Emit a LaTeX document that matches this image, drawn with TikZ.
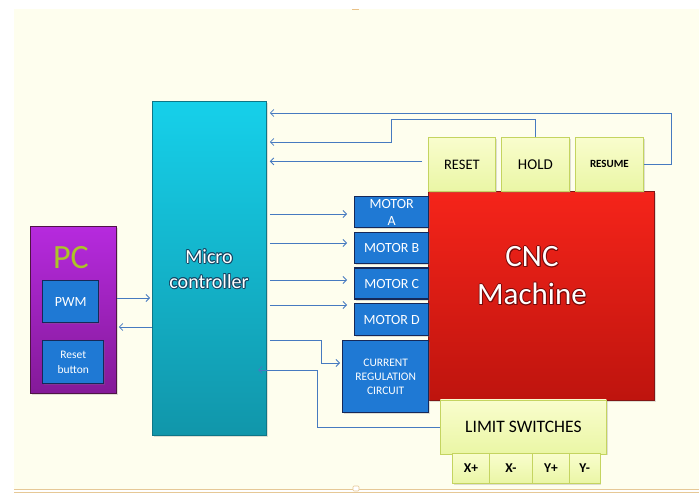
\documentclass[tikz,border=0pt]{standalone}
\usepackage{fontspec}
\setmainfont{Carlito}
\usetikzlibrary{arrows.meta,shadows}
\definecolor{cream}{RGB}{254,254,238}
\definecolor{tanline}{RGB}{230,200,150}
\definecolor{mcTop}{RGB}{22,208,234}
\definecolor{mcBot}{RGB}{17,150,170}
\definecolor{mcEdge}{RGB}{14,118,135}
\definecolor{pcTop}{RGB}{182,42,222}
\definecolor{pcBot}{RGB}{132,26,152}
\definecolor{pcEdge}{RGB}{80,20,70}
\definecolor{pcText}{RGB}{172,196,40}
\definecolor{bBlue}{RGB}{31,121,212}
\definecolor{bEdge}{RGB}{22,40,88}
\definecolor{yTop}{RGB}{249,253,205}
\definecolor{yBot}{RGB}{234,246,165}
\definecolor{yEdge}{RGB}{196,212,96}
\definecolor{rTop}{RGB}{245,36,26}
\definecolor{rBot}{RGB}{190,20,14}
\definecolor{rEdge}{RGB}{130,22,20}
\definecolor{arrc}{RGB}{70,122,192}
\definecolor{mcOut}{RGB}{20,70,100}
\definecolor{cncOut}{RGB}{120,10,10}
\newcommand\glowone[4]{\rlap{\hspace*{#2}\raisebox{#3}{\textcolor{#1}{#4}}}}
\newcommand\glowtxt[2]{\leavevmode
  \glowone{#1}{0.9pt}{0pt}{#2}\glowone{#1}{-0.9pt}{0pt}{#2}%
  \glowone{#1}{0pt}{0.9pt}{#2}\glowone{#1}{0pt}{-0.9pt}{#2}%
  \glowone{#1}{0.65pt}{0.65pt}{#2}\glowone{#1}{-0.65pt}{0.65pt}{#2}%
  \glowone{#1}{0.65pt}{-0.65pt}{#2}\glowone{#1}{-0.65pt}{-0.65pt}{#2}%
  \glowone{#1}{0.8pt}{-1.2pt}{#2}%
  #2}
\begin{document}
\begin{tikzpicture}[x=1pt,y=-1pt,
  box/.style={rectangle, inner sep=0pt, anchor=north west, align=center, line width=0.8pt,
    drop shadow={opacity=0.25, shadow xshift=1.2pt, shadow yshift=-1.5pt}},
  mcbox/.style={box, top color=mcTop, bottom color=mcBot, draw=mcEdge},
  pcbox/.style={box, top color=pcTop, bottom color=pcBot, draw=pcEdge},
  bbox/.style={box, fill=bBlue, draw=bEdge, line width=1.4pt, text=white},
  ybox/.style={box, top color=yTop, bottom color=yBot, draw=yEdge, text=black},
  rbox/.style={box, top color=rTop, bottom color=rBot, draw=rEdge},
  arr/.style={draw=arrc, line width=0.8pt, -{Straight Barb[length=3.5pt,width=7pt]}}
]
\useasboundingbox (0,0) rectangle (699,494);
\fill[white] (0,0) rectangle (699,494);
\fill[cream] (14,9) rectangle (699,489);
\draw[tanline, line width=1.2pt] (14,489.3) -- (699,489.3);
\draw[tanline, line width=1pt] (14,492.6) -- (699,492.6);
\fill[white, draw=tanline, line width=0.6pt, rounded corners=1pt] (353,486) rectangle (359,491);
\draw[tanline!90!orange, line width=1.5pt] (352,9.5) -- (359,9.5);

% Micro controller
\node[mcbox, minimum width=114pt, minimum height=334pt] (mc) at (152,101) {};
\node[text=white, font=\fontsize{20}{25}\selectfont, align=center] (mctext) at (209,269)
  {\glowtxt{mcOut}{Micro}\\\glowtxt{mcOut}{controller}};

% PC
\node[pcbox, minimum width=86pt, minimum height=167pt] (pc) at (30,226) {};
\node[text=pcText, font=\fontsize{34}{40}\selectfont] (pctext) at (71,258) {PC};
\node[bbox, minimum width=56pt, minimum height=42pt, font=\fontsize{14}{17}\selectfont] (pwm) at (42,280) {PWM};
\node[bbox, minimum width=61pt, minimum height=43pt, font=\fontsize{11.5}{14.5}\selectfont] (rb) at (42,340) {Reset\\button};

% CNC machine
\node[rbox, minimum width=226pt, minimum height=209pt] (cnc) at (428,191) {};
\node[text=white, font=\fontsize{31}{38}\selectfont, align=center] (cnctext) at (532,276)
  {\glowtxt{cncOut}{CNC}\\\glowtxt{cncOut}{Machine}};

% top buttons
\node[ybox, minimum width=67pt, minimum height=54pt, font=\fontsize{14.5}{17}\selectfont] (reset) at (428,137) {RESET};
\node[ybox, minimum width=68pt, minimum height=54pt, font=\fontsize{15}{18}\selectfont] (hold) at (501,137) {HOLD};
\node[ybox, minimum width=68pt, minimum height=54pt, font=\bfseries\fontsize{11}{14}\selectfont] (resume) at (575,137) {RESUME};

% motors
\node[bbox, minimum width=74pt, minimum height=31pt, font=\fontsize{14}{17}\selectfont] (ma) at (354,196) {MOTOR\\[0pt]A};
\node[bbox, minimum width=74pt, minimum height=31pt, font=\fontsize{14}{17}\selectfont] (mb) at (354,232) {MOTOR B};
\node[bbox, minimum width=74pt, minimum height=31pt, font=\fontsize{14}{17}\selectfont] (mcm) at (354,267.5) {MOTOR C};
\node[bbox, minimum width=74pt, minimum height=32pt, font=\fontsize{14}{17}\selectfont] (md) at (354,303) {MOTOR D};

% current regulation
\node[bbox, minimum width=86pt, minimum height=72pt, font=\fontsize{11.5}{14.3}\selectfont] (cr) at (342,340) {CURRENT\\REGULATION\\CIRCUIT};

% limit switches
\node[ybox, minimum width=166pt, minimum height=54pt, font=\fontsize{17.5}{21}\selectfont] (lim) at (440,399.5) {LIMIT SWITCHES};
\node[ybox, minimum width=37pt, minimum height=30pt, font=\bfseries\fontsize{13.5}{15}\selectfont] (xp) at (452,453) {X+};
\node[ybox, minimum width=43pt, minimum height=30pt, font=\bfseries\fontsize{13.5}{15}\selectfont] (xm) at (489,453) {X-};
\node[ybox, minimum width=37pt, minimum height=30pt, font=\bfseries\fontsize{13.5}{15}\selectfont] (yp) at (532,453) {Y+};
\node[ybox, minimum width=30.5pt, minimum height=30pt, font=\bfseries\fontsize{13.5}{15}\selectfont] (ym) at (569,453) {Y-};

% helper coordinates
\coordinate (mcr) at ([xshift=3pt]mc.east);
\coordinate (rs) at ([xshift=-6pt,yshift=3pt]reset.west);
\coordinate (ya) at (0,214);
\coordinate (yb) at (0,243);
\coordinate (yc) at (0,280);
\coordinate (yd) at (0,305);
\coordinate (y1) at (0,113);
\coordinate (y2) at (0,142);
\coordinate (h2) at (391,119);
\coordinate (c5) at (321,340);
\coordinate (y5) at (0,363);
\coordinate (c6) at (317,370);
\coordinate (t6) at (258,370);
\coordinate (ypwm) at (0,298);
\coordinate (ypc) at (0,327);

% feedback from buttons
\draw[arr] (resume.east) -- ++(28,0) |- (mcr |- y1);
\draw[arr] (hold.north) |- (h2) |- (mcr |- y2);
\draw[arr] (rs) -- (mcr |- rs);

% motors
\draw[arr] (mcr |- ya) -- ([xshift=-7pt]ma.west |- ya);
\draw[arr] (mcr |- yb) -- ([xshift=-7pt]mb.west |- yb);
\draw[arr] (mcr |- yc) -- ([xshift=-7pt]mcm.west |- yc);
\draw[arr] (mcr |- yd) -- ([xshift=-7pt]md.west |- yd);

% current regulation
\draw[arr] (mcr |- c5) -- (c5) |- ([xshift=-2pt]cr.west |- y5);

% limit switches back to MC
\draw[arr] (lim.west) -| (c6) -- (t6);

% PC links
\draw[arr] (pc.east |- ypwm) -- ([xshift=-2pt]mc.west |- ypwm);
\draw[arr] (mc.west |- ypc) -- ([xshift=2pt]pc.east |- ypc);
\end{tikzpicture}
\end{document}
